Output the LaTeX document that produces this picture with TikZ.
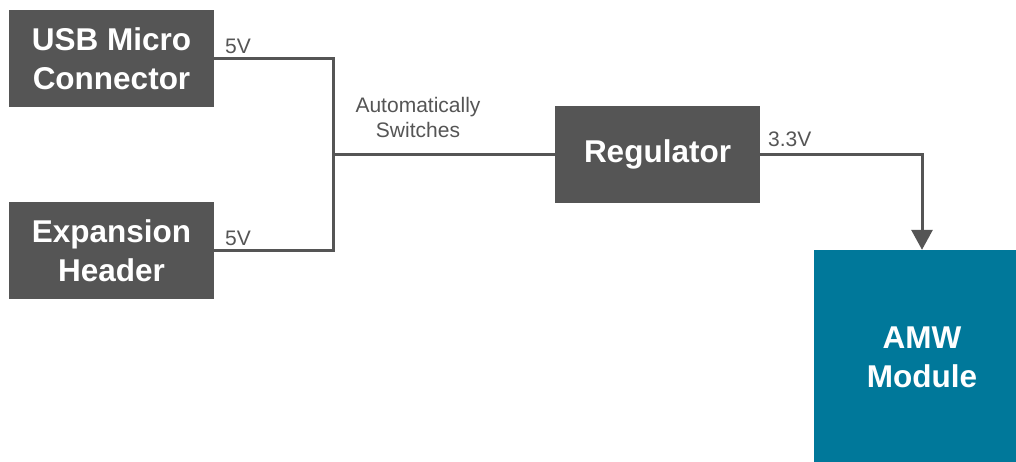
\documentclass[tikz,border=0pt]{standalone}
\usepackage{fontspec}
\setmainfont{Liberation Sans}
\usetikzlibrary{arrows.meta}
\definecolor{boxgray}{HTML}{555555}
\definecolor{linegray}{HTML}{555555}
\definecolor{teal}{HTML}{00789A}
\begin{document}
\begin{tikzpicture}[x=1pt,y=-1pt,
  blk/.style={rectangle,fill=boxgray,inner sep=0pt,minimum width=205pt,minimum height=97pt,
    text=white,align=center,font=\fontsize{31.5}{39}\selectfont\bfseries},
  wire/.style={draw=linegray,line width=3pt},
  lbl/.style={text=linegray,font=\fontsize{21}{25}\selectfont,inner sep=0pt}]
\useasboundingbox (0,0) rectangle (1016,461);
\fill[white] (0,0) rectangle (1016,461);
\node[blk] (usb) at (111.5,58.5) {USB Micro\\Connector};
\node[blk] (exp) at (111.5,250.5) {Expansion\\Header};
\node[blk] (reg) at (657.5,154.5) {Regulator};
\node[blk,fill=teal,minimum width=216pt,minimum height=214pt] (amw) at (922,357) {AMW\\Module};
\coordinate (j) at (333,154.5);
\draw[wire,line join=miter] (usb.east) -- (usb.east -| j) -- (exp.east -| j) -- (exp.east);
\draw[wire] (j) -- (reg.west);
\draw[wire,-{Triangle[width=21pt,length=20pt]}] (reg.east) -| (amw.north);
\node[lbl,anchor=base west] (l1) at (225,53) {5V};
\node[lbl,anchor=base west] (l2) at (225,245) {5V};
\node[lbl,align=center] (l3) at (418,117) {Automatically\\Switches};
\node[lbl,anchor=base west] (l4) at (768,146) {3.3V};
\end{tikzpicture}
\end{document}
